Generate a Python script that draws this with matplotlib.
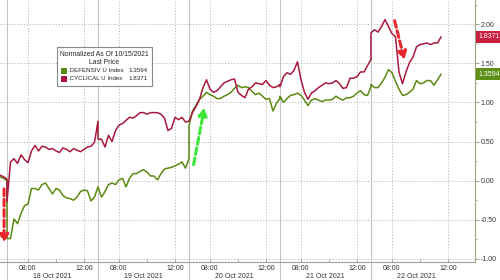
import numpy as np
import matplotlib
matplotlib.use('Agg')
import matplotlib.pyplot as plt
from matplotlib.patches import Rectangle
import matplotlib.transforms as mtransforms

plt.rcParams['font.family'] = ['Liberation Sans', 'DejaVu Sans']

# ---------------- data (15-minute bars, 06:30-13:00 sessions) ----------------
day_labels = ['18 Oct 2021', '19 Oct 2021', '20 Oct 2021', '21 Oct 2021', '22 Oct 2021']
time_ticks = ['08:00', '12:00']

oct15_cyc = [0.07, 0.05, 0.02]
oct15_def = [0.05, 0.03, 0.00]

cyc_18 = [-0.27, 0.24, 0.28, 0.22, 0.33, 0.27, 0.23, 0.38, 0.45, 0.38, 0.44, 0.43, 0.40,
          0.41, 0.38, 0.36, 0.42, 0.40, 0.37, 0.41, 0.39, 0.37, 0.40, 0.43, 0.44, 0.49, 0.76]
def_18 = [-0.74, -0.74, -0.49, -0.55, -0.42, -0.32, -0.30, -0.10, -0.10, -0.12, -0.05, -0.03, -0.10,
          -0.17, -0.10, -0.12, -0.19, -0.22, -0.23, -0.25, -0.21, -0.14, -0.12, -0.13, -0.26, -0.21, -0.08]

cyc_19 = [0.53, 0.53, 0.43, 0.58, 0.50, 0.64, 0.71, 0.73, 0.77, 0.81, 0.80, 0.83, 0.87,
          0.87, 0.85, 0.87, 0.87, 0.87, 0.85, 0.80, 0.64, 0.67, 0.81, 0.78, 0.81, 0.75, 0.76]
def_19 = [-0.08, -0.21, -0.14, -0.05, -0.03, -0.05, 0.01, 0.03, -0.08, 0.03, 0.09, 0.09, 0.12,
          0.14, 0.11, 0.06, 0.06, 0.01, 0.09, 0.15, 0.16, 0.17, 0.19, 0.21, 0.24, 0.16, 0.28]

cyc_20 = [0.76, 0.87, 0.95, 1.04, 1.19, 1.29, 1.17, 1.13, 1.15, 1.20, 1.25, 1.27, 1.29,
          1.30, 1.13, 1.09, 1.06, 1.17, 1.20, 1.25, 1.24, 1.23, 1.28, 1.22, 1.19, 1.20, 1.23]
def_20 = [0.70, 0.89, 0.96, 1.04, 1.08, 1.13, 1.10, 1.08, 1.05, 1.05, 1.08, 1.10, 1.13,
          1.18, 1.22, 1.19, 1.20, 1.19, 1.14, 1.10, 1.12, 1.08, 1.04, 1.05, 0.89, 0.99, 1.05]

cyc_21 = [1.20, 1.33, 1.38, 1.36, 1.41, 1.52, 1.29, 1.13, 1.04, 1.12, 1.15, 1.19, 1.22,
          1.25, 1.24, 1.25, 1.28, 1.24, 1.18, 1.19, 1.31, 1.31, 1.33, 1.39, 1.39, 1.47, 1.55]
def_21 = [1.08, 1.00, 1.05, 1.09, 1.10, 1.12, 1.09, 1.03, 0.96, 1.03, 1.05, 1.03, 1.01,
          1.03, 1.03, 1.04, 1.08, 1.05, 1.03, 1.06, 1.06, 1.08, 1.12, 1.15, 1.10, 1.09, 1.20]

cyc_22 = [1.89, 1.93, 1.90, 1.97, 2.06, 1.97, 1.88, 1.84, 1.39, 1.24, 1.39, 1.51, 1.58,
          1.71, 1.74, 1.75, 1.76, 1.74, 1.76, 1.76, 1.8371]
def_22 = [1.23, 1.19, 1.19, 1.25, 1.32, 1.42, 1.38, 1.27, 1.17, 1.09, 1.10, 1.13, 1.17,
          1.28, 1.24, 1.25, 1.28, 1.28, 1.22, 1.29, 1.3594]

last_def = 1.3594
last_cyc = 1.8371

# ---------------- build compressed session-time axis ----------------
SESSION = 6.5   # hours per session (06:30 - 13:00)
STEP = 0.25
cyc_days = [cyc_18, cyc_19, cyc_20, cyc_21, cyc_22]
def_days = [def_18, def_19, def_20, def_21, def_22]

t_all, cyc_all, def_all = [], [], []
for i, (c, d) in enumerate(zip(oct15_cyc, oct15_def)):
    t_all.append(-STEP * (len(oct15_cyc) - 1 - i))
    cyc_all.append(c)
    def_all.append(d)
for di, (cd, dd) in enumerate(zip(cyc_days, def_days)):
    for i, (c, d) in enumerate(zip(cd, dd)):
        t_all.append(di * SESSION + i * STEP)
        cyc_all.append(c)
        def_all.append(d)

RED = '#a8193d'
GREEN = '#5b8a12'

fig = plt.figure(figsize=(5, 2.8), dpi=100)
ax = fig.add_axes([0.0, 1 - 262 / 280, 475 / 500, 262 / 280])
ax.set_xlim(-0.5, 33.43)
ax.set_ylim(-1.04, 2.31)

# grid
for v in np.arange(-1.0, 2.01, 0.5):
    ax.axhline(v, color='#b8b8b8', lw=0.7, ls=(0, (1.2, 1.8)), zorder=0)
for di in range(len(day_labels)):
    for off in (1.5, 5.5):
        ax.axvline(di * SESSION + off, color='#b8b8b8', lw=0.7, ls=(0, (1.2, 1.8)), zorder=0)
for di in range(len(day_labels)):
    ax.axvline(di * SESSION, ymin=-0.07, ymax=1, color='#c4c4c4', lw=0.8, clip_on=False, zorder=0)

ax.plot(t_all, def_all, color=GREEN, lw=1.1, zorder=3)
ax.plot(t_all, cyc_all, color=RED, lw=1.1, zorder=4)

# axes styling
for s in ('top', 'left'):
    ax.spines[s].set_visible(False)
ax.spines['right'].set_color('#a3a384')
ax.spines['bottom'].set_color('#a0a0a0')
ax.spines['right'].set_linewidth(0.8)
ax.spines['bottom'].set_linewidth(0.8)
ax.yaxis.tick_right()
ax.set_yticks(np.arange(-1.0, 2.01, 0.5))
ax.set_yticks(np.arange(-1.0, 2.26, 0.25), minor=True)
ax.set_yticklabels([f'{v:.2f}' for v in np.arange(-1.0, 2.01, 0.5)])
ax.tick_params(axis='y', which='major', direction='out', length=3, width=0.7,
               colors='#a3a384', labelcolor='#333333', labelsize=5, pad=1)
ax.tick_params(axis='y', which='minor', direction='out', length=1.5, width=0.6, colors='#a3a384')

xt, xl = [], []
minor_x = []
for di in range(len(day_labels)):
    xt += [di * SESSION + 1.5, di * SESSION + 5.5]
    xl += time_ticks
    minor_x.append(di * SESSION + 3.5)
ax.set_xticks(xt)
ax.set_xticklabels(xl)
ax.set_xticks(minor_x, minor=True)
ax.tick_params(axis='x', which='major', direction='in', length=2, width=0.6,
               colors='#a0a0a0', labelcolor='#333333', labelsize=5, pad=2)
ax.tick_params(axis='x', which='minor', direction='in', length=2, width=0.6, colors='#a0a0a0')

trans = mtransforms.blended_transform_factory(ax.transData, ax.transAxes)
for di, lab in enumerate(day_labels):
    ax.text(di * SESSION + SESSION / 2, -0.055, lab, transform=trans, ha='center', va='center',
            fontsize=5, color='#333333', clip_on=False)

# last-price tags on right axis
ytrans = mtransforms.blended_transform_factory(ax.transAxes, ax.transData)
ax.text(1.008, last_cyc, f'{last_cyc:.4f}', transform=ytrans, ha='left', va='center', fontsize=5,
        color='white', bbox=dict(boxstyle='square,pad=0.35', fc='#c8203f', ec='none'), clip_on=False)
ax.text(1.008, last_def, f'{last_def:.4f}', transform=ytrans, ha='left', va='center', fontsize=5,
        color='white', bbox=dict(boxstyle='square,pad=0.35', fc='#5e8f17', ec='none'), clip_on=False)

# arrows
arrow_kw = dict(arrowstyle='-|>,head_length=0.45,head_width=0.25', lw=2.2, ls=(0, (2.2, 1.2)))
ax.annotate('', xy=(-0.21, -0.83), xytext=(-0.21, -0.07),
            arrowprops=dict(color='#e8262b', **arrow_kw), zorder=6)
ax.annotate('', xy=(14.14, 0.97), xytext=(13.29, 0.17),
            arrowprops=dict(color='#3ee63a', **arrow_kw), zorder=6)
ax.annotate('', xy=(28.43, 1.51), xytext=(27.64, 2.08),
            arrowprops=dict(color='#e8262b', **arrow_kw), zorder=6)

# legend box (figure pixel coordinates)
W, H = 500, 280
def fx(x): return x / W
def fy(y): return 1 - y / H
fig.patches.append(Rectangle((fx(57), fy(86)), 95 / W, 39 / H, transform=fig.transFigure,
                             fc='white', ec='#8a8a8a', lw=0.8, zorder=10))
fig.text(fx(104.5), fy(55), 'Normalized As Of 10/15/2021', ha='center', va='center',
         fontsize=4.9, color='#222222', zorder=11)
fig.text(fx(104.5), fy(63), 'Last Price', ha='center', va='center', fontsize=4.9,
         color='#222222', zorder=11)
rows = [('.DEFENSIV U Index', last_def, GREEN, 71), ('.CYCLICAL U Index', last_cyc, RED, 79)]
for name, val, col, y in rows:
    fig.patches.append(Rectangle((fx(61), fy(y + 3)), 6 / W, 6 / H, transform=fig.transFigure,
                                 fc=col, ec='none', zorder=11))
    fig.text(fx(68), fy(y), name, ha='left', va='center', fontsize=4.4, color='#222222', zorder=11)
    fig.text(fx(148), fy(y), f'{val:.4f}', ha='right', va='center', fontsize=4.5,
             color='#222222', zorder=11)

fig.savefig('out.png', dpi=100)
